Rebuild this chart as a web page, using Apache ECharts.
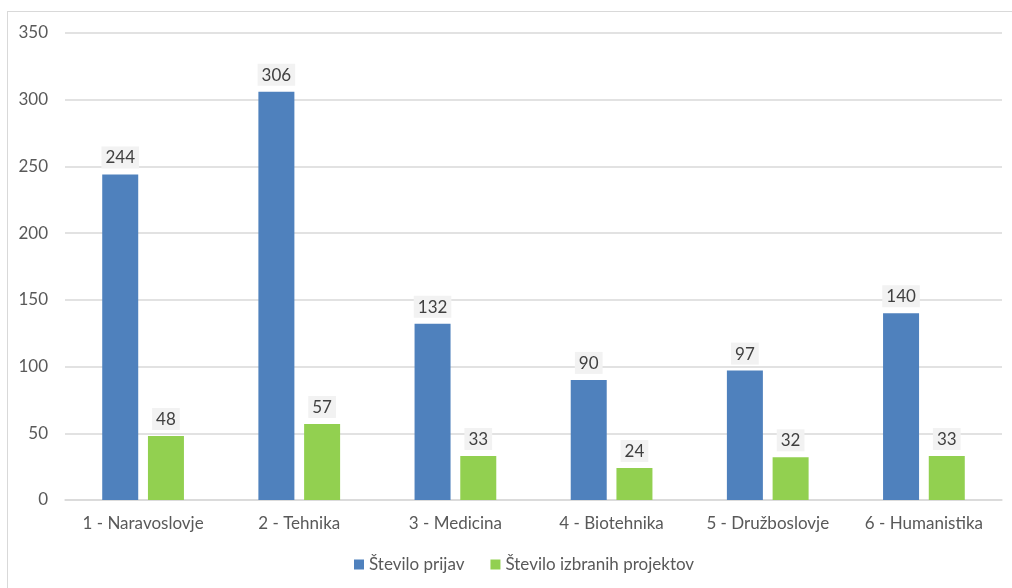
<!DOCTYPE html>
<html><head><meta charset="utf-8">
<script src="https://cdn.jsdelivr.net/npm/echarts@6/dist/echarts.min.js"></script>
<style>
html,body{margin:0;padding:0;background:#fff;overflow:hidden;}
#frame{position:absolute;left:7px;top:11px;width:1020px;height:600px;border:1.5px solid #D9D9D9;box-sizing:border-box;}
#c{position:absolute;left:0;top:0;width:1012px;height:588px;}
</style></head>
<body>
<div id="frame"></div>
<div id="c"></div>
<script>
var categories = ['1 - Naravoslovje','2 - Tehnika','3 - Medicina','4 - Biotehnika','5 - Družboslovje','6 - Humanistika'];
var seriesNames = ['Število prijav','Število izbranih projektov'];
var prijav = [244, 306, 132, 90, 97, 140];
var izbrani = [48, 57, 33, 24, 32, 33];

var font = 'Lato, Open Sans, sans-serif';
var labelCfg = {
  show: true, position: 'top', distance: 6,
  color: '#404040', fontSize: 17, fontFamily: font,
  backgroundColor: '#F2F2F2', padding: [3, 4, 2, 4]
};
var chart = echarts.init(document.getElementById('c'));
chart.setOption({
  animation: false,
  grid: {left: 65, right: 10, top: 33, bottom: 88},
  legend: {
    bottom: 10, left: 349, itemWidth: 10, itemHeight: 10, itemGap: 26, itemTextGap: 4,
    icon: 'rect',
    textStyle: {color: '#595959', fontSize: 17, fontFamily: font},
    data: seriesNames
  },
  xAxis: {
    type: 'category', data: categories,
    axisLine: {lineStyle: {color: '#D9D9D9', width: 1.5}},
    axisTick: {show: false},
    axisLabel: {color: '#595959', fontSize: 17, fontFamily: font, margin: 15, interval: 0}
  },
  yAxis: {
    type: 'value', min: 0, max: 350, interval: 50,
    axisLine: {show: false}, axisTick: {show: false},
    splitLine: {lineStyle: {color: '#D9D9D9', width: 1.5}},
    axisLabel: {color: '#595959', fontSize: 17, fontFamily: font, margin: 17}
  },
  series: [
    {name: seriesNames[0], type: 'bar', data: prijav, barWidth: 36, barGap: '27%',
     itemStyle: {color: '#4F81BD'}, label: labelCfg},
    {name: seriesNames[1], type: 'bar', data: izbrani, barWidth: 36,
     itemStyle: {color: '#92D050'}, label: labelCfg}
  ]
});
</script>
</body></html>
